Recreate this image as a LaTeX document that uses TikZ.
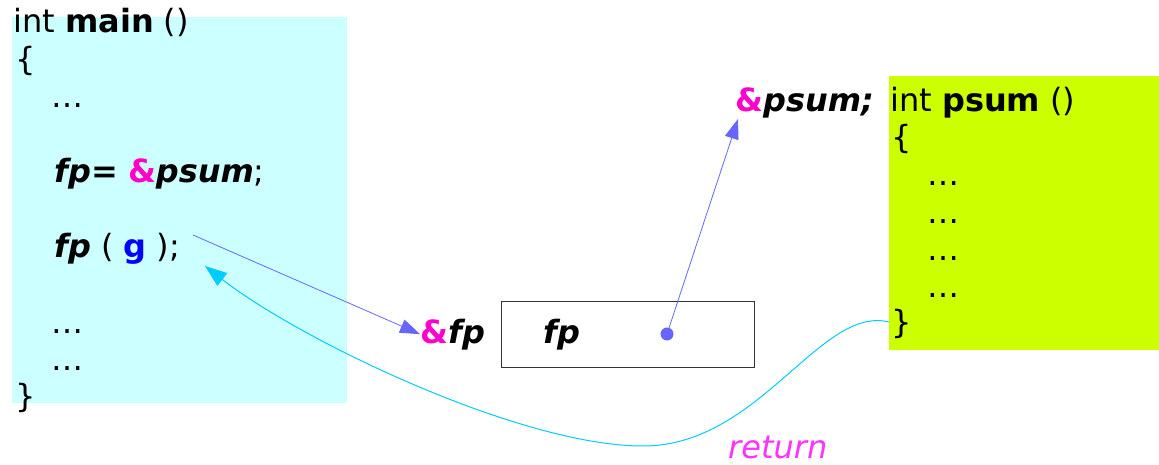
\documentclass[tikz,border=0pt]{standalone}
\usepackage{fontspec}
\setmainfont{DejaVu Sans}
\usetikzlibrary{arrows.meta}
\definecolor{mainbg}{HTML}{CCFFFF}
\definecolor{psumbg}{HTML}{CCFF00}
\definecolor{amp}{HTML}{FF00CC}
\definecolor{ptr}{HTML}{6666FF}
\definecolor{ret}{HTML}{00CCFF}
\definecolor{rettxt}{HTML}{FF33FF}
\definecolor{gblue}{HTML}{0000FF}
\newcommand{\bi}[1]{\textbf{\textit{#1}}}
\newcommand{\amper}{\textcolor{amp}{\textbf{\&}}}
\newcommand{\dotsb}{…}
\begin{document}
\begin{tikzpicture}[x=1pt,y=-1pt,
  code/.style={anchor=base west,inner sep=0pt,font=\fontsize{32}{38}\selectfont},
  ptrarrow/.style={draw=ptr,line width=0.8pt,-{Triangle[length=20pt,width=14pt]},color=ptr},
  retarrow/.style={draw=ret,line width=1pt,-{Triangle[length=22pt,width=16pt]},color=ret},
  cell/.style={draw=black!80,line width=1pt,minimum width=253pt,minimum height=66pt,inner sep=0pt}]
\useasboundingbox (0,0) rectangle (1159,465);
% backgrounds
\fill[mainbg] (12,17) rectangle (347,403);
\fill[psumbg] (889,76) rectangle (1159,350);
% main
\node[code] (m1) at (13,33) {int \textbf{main} ()};
\node[code] (m2) at (15,70.5) {\{};
\node[code] (m3) at (51,108) {\dotsb};
\node[code] (m4) at (54,183) {\bi{fp=} \amper\bi{psum};};
\node[code] (m5) at (54,258) {\bi{fp} ( \textcolor{gblue}{\textbf{g}} );};
\node[code] (m6) at (51,333) {\dotsb};
\node[code] (m7) at (51,370.5) {\dotsb};
\node[code] (m8) at (15,407) {\}};
% psum
\node[code] (p1) at (890,112) {int \textbf{psum} ()};
\node[code] (p2) at (891,149) {\{};
\node[code] (p3) at (927,186) {\dotsb};
\node[code] (p4) at (927,223) {\dotsb};
\node[code] (p5) at (927,260) {\dotsb};
\node[code] (p6) at (927,297) {\dotsb};
\node[code] (p7) at (891,333) {\}};
% pointer cell
\node[cell] (cellbox) at (627.5,334) {};
\node[code] (fpaddr) at (420,343) {\amper\bi{fp}};
\node[code] (fpname) at (543,343) {\bi{fp}};
\node[circle,fill=ptr,inner sep=0pt,minimum size=13pt] (dot) at (667,334) {};
\node[code] (psumaddr) at (735,112) {\amper\bi{psum;}};
\node[code,text=rettxt] (rettext) at (728,458) {\textit{return}};
% connector ends
\coordinate (callpt) at (193,235);
\coordinate (psumtip) at (738,119);
\coordinate (retstart) at (889,322);
\coordinate (retend) at (205,266);
\coordinate (retlow) at (643,446);
% arrows
\draw[ptrarrow] (callpt) -- (fpaddr.west);
\draw[ptrarrow] (dot.center) -- (psumtip);
\draw[retarrow] (retstart) .. controls (820,305) and (760,446) .. (retlow)
   .. controls (520,446) and (300,340) .. (retend);
\end{tikzpicture}
\end{document}
